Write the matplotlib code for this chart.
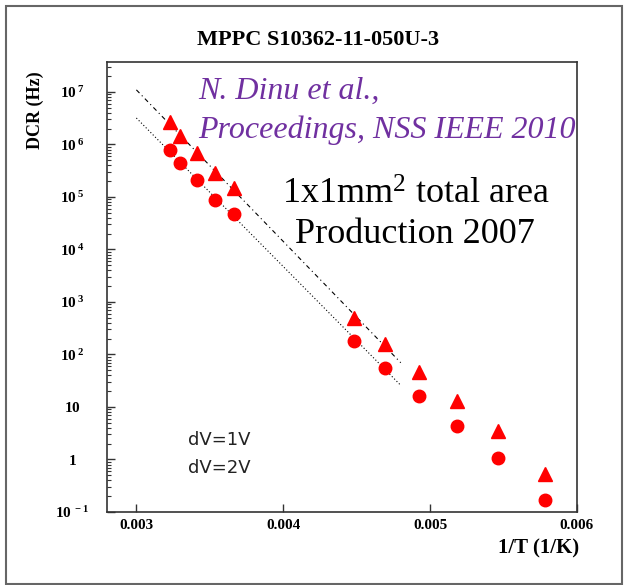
import matplotlib
matplotlib.use("Agg")
import matplotlib.pyplot as plt
import matplotlib.ticker as mticker
from matplotlib.patches import Rectangle
import numpy as np

plt.rcParams['font.family'] = ['Liberation Serif', 'DejaVu Serif']
plt.rcParams['mathtext.fontset'] = 'custom'
plt.rcParams['mathtext.rm'] = 'Liberation Serif'
plt.rcParams['mathtext.bf'] = 'Liberation Serif:bold'
plt.rcParams['mathtext.it'] = 'Liberation Serif:italic'

# temperatures of the measurements (K), x axis is 1/T
temps = np.array([310, 303, 293, 283, 273, 223, 213, 203, 193, 183, 173])
inv_t = 1.0 / temps

# dark count rate (Hz)
dcr_1v = np.array([7.9e5, 4.4e5, 2.1e5, 8.9e4, 4.7e4, 181, 56, 16.1, 4.3, 1.08, 0.17])
dcr_2v = np.array([2.7e6, 1.42e6, 7.0e5, 2.8e5, 1.46e5, 492, 159, 45.7, 12.9, 3.5, 0.54])

# exponential fits use the points above ~210 K
n_fit = 7
fit_x = np.linspace(0.003, 0.0048, 50)

y_ticks = [1e-1, 1, 10, 1e2, 1e3, 1e4, 1e5, 1e6, 1e7]
y_tick_labels = [r'$\mathbf{10^{\ -1}}$', r'$\mathbf{1}$', r'$\mathbf{10}$',
                 r'$\mathbf{10^{\ 2}}$', r'$\mathbf{10^{\ 3}}$', r'$\mathbf{10^{\ 4}}$',
                 r'$\mathbf{10^{\ 5}}$', r'$\mathbf{10^{\ 6}}$', r'$\mathbf{10^{\ 7}}$']
x_ticks = [0.003, 0.004, 0.005, 0.006]
x_tick_labels = ['0.003', '0.004', '0.005', '0.006']

fig = plt.figure(figsize=(6.25, 5.85), dpi=100)
ax = fig.add_axes([107 / 625, 1 - 512 / 585, 470 / 625, 450 / 585])

# outer pad frame
fig.patches.append(Rectangle((6 / 625, 1 / 585), 616 / 625, 578 / 585,
                             transform=fig.transFigure, fill=False,
                             edgecolor='#666666', lw=1.5))

# fit lines
p2 = np.polyfit(inv_t[:n_fit], np.log10(dcr_2v[:n_fit]), 1)
p1 = np.polyfit(inv_t[:n_fit], np.log10(dcr_1v[:n_fit]), 1)
ax.plot(fit_x, 10 ** np.polyval(p2, fit_x), color='black', lw=0.8,
        linestyle=(0, (4, 3, 1, 3)))
ax.plot(fit_x, 10 ** np.polyval(p1, fit_x), color='black', lw=0.8,
        linestyle=(0, (1, 2)))

ax.plot(inv_t, dcr_2v, linestyle='none', marker='^', color='red', markersize=10)
ax.plot(inv_t, dcr_1v, linestyle='none', marker='o', color='red', markersize=9)

ax.set_yscale('log')
ax.set_xlim(0.0028, 0.006)
ax.set_ylim(1e-1, 10 ** 7.57)

ax.yaxis.set_major_locator(mticker.FixedLocator(y_ticks))
ax.yaxis.set_major_formatter(mticker.FixedFormatter(y_tick_labels))
ax.yaxis.set_minor_locator(mticker.LogLocator(base=10, subs=np.arange(2, 10), numticks=20))
ax.yaxis.set_minor_formatter(mticker.NullFormatter())
ax.set_xticks(x_ticks)
ax.set_xticklabels(x_tick_labels, fontweight='bold', fontsize=11)

ax.tick_params(axis='both', which='both', direction='in', color='#333333')
ax.tick_params(axis='y', which='major', length=6, width=1, pad=25, labelsize=11)
ax.tick_params(axis='y', which='minor', length=3, width=0.8)
ax.tick_params(axis='x', which='major', length=6, width=1, pad=5)
for lab in ax.get_yticklabels():
    lab.set_horizontalalignment('center')

for s in ax.spines.values():
    s.set_color('#333333')
    s.set_linewidth(1.2)

fig.text(318 / 625, 1 - 40 / 585, 'MPPC S10362-11-050U-3', ha='center', va='center',
         fontsize=16, fontweight='bold')
fig.text(35 / 625, 1 - 110 / 585, 'DCR (Hz)', rotation=90, ha='center', va='center',
         fontsize=13, fontweight='bold')
fig.text(579 / 625, 1 - 548 / 585, '1/T (1/K)', ha='right', va='center',
         fontsize=15, fontweight='bold')

purple = '#7030a0'
fig.text(198 / 625, 1 - 99 / 585, 'N. Dinu et al.,', ha='left', va='baseline',
         fontsize=23, style='italic', color=purple)
fig.text(198 / 625, 1 - 138 / 585, 'Proceedings, NSS IEEE 2010', ha='left', va='baseline',
         fontsize=23, style='italic', color=purple)
fig.text(416 / 625, 1 - 204 / 585, r'1x1mm$^2$ total area', ha='center', va='baseline',
         fontsize=26)
fig.text(415 / 625, 1 - 243 / 585, 'Production 2007', ha='center', va='baseline',
         fontsize=26)

fig.text(188 / 625, 1 - 440 / 585, 'dV=1V', ha='left', va='center',
         fontsize=13, family='DejaVu Sans', color='#222222')
fig.text(188 / 625, 1 - 468 / 585, 'dV=2V', ha='left', va='center',
         fontsize=13, family='DejaVu Sans', color='#222222')

fig.savefig('out.png', dpi=100)
